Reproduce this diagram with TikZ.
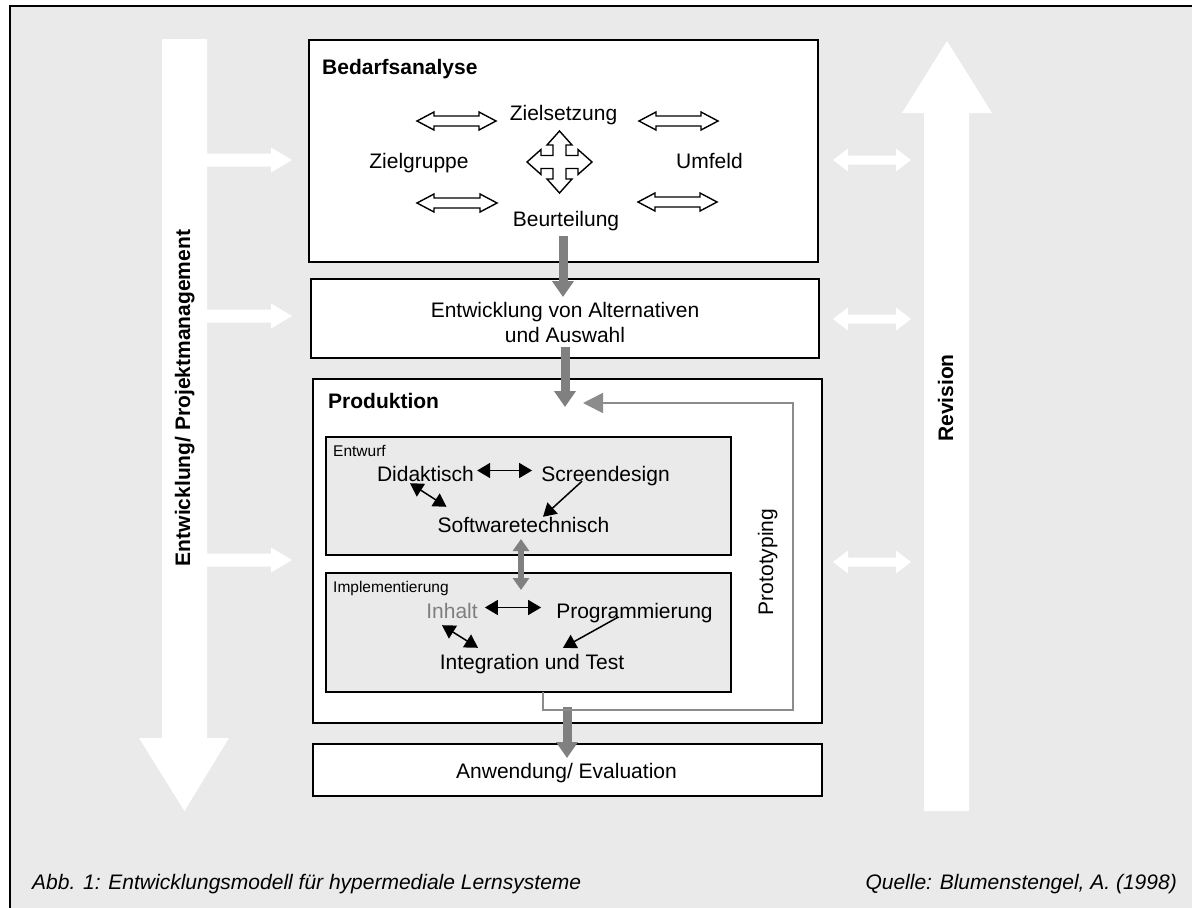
\documentclass[tikz,border=0pt]{standalone}
\usepackage{fontspec}
\setmainfont{Liberation Sans}
\usetikzlibrary{arrows.meta,calc}
\definecolor{bg}{HTML}{EAEAEA}
\definecolor{garrow}{HTML}{808080}
\definecolor{gline}{HTML}{8C8C8C}
\definecolor{inhgray}{HTML}{7F7F7F}
\begin{document}
\begin{tikzpicture}[x=1pt,y=-1pt,
  box/.style={draw=black, line width=1.8pt, fill=white, inner sep=0pt, outer sep=0pt},
  ibox/.style={draw=black, line width=1.8pt, fill=bg, inner sep=0pt, outer sep=0pt},
  t/.style={font=\fontsize{21}{25}\selectfont, inner sep=0pt, text height=15pt, text depth=4pt, anchor=base},
  hdr/.style={font=\bfseries\fontsize{21}{25}\selectfont, inner sep=0pt, anchor=base west},
  vtxt/.style={font=\bfseries\fontsize{21}{25}\selectfont, inner sep=0pt, anchor=base, rotate=90},
  small/.style={font=\fontsize{15.5}{18}\selectfont, inner sep=0pt, anchor=base west},
  captxt/.style={font=\itshape\fontsize{21}{25}\selectfont, inner sep=0pt},
  grayarrow/.style={draw=garrow, line width=9pt, -{Triangle[length=16pt,width=21pt]}},
  graydbl/.style={draw=garrow, line width=6pt, {Triangle[length=12pt,width=16pt]}-{Triangle[length=12pt,width=16pt]}},
  barrow/.style={draw=black, line width=1.5pt, -{Triangle[length=13pt,width=15pt]}},
  bdbl/.style={draw=black, line width=1.5pt, {Triangle[length=13pt,width=15pt]}-{Triangle[length=13pt,width=15pt]}},
  protoline/.style={draw=gline, line width=1.6pt, -{Triangle[length=20pt,width=20pt]}},
  outlinearrow/.style={draw=black, line width=1.4pt, fill=white, line join=miter}
]
\useasboundingbox (0,0) rectangle (1192,908);
\fill[bg] (10,6) rectangle (1192,908);
\draw[line width=2.5pt] (10,908) -- (10,6) -- (1192,6);

% big white arrows
\fill[white] (162,39) -- (207,39) -- (207,738) -- (229,738) -- (184.5,811) -- (139,738) -- (162,738) -- cycle;
\fill[white] (924,811) -- (969,811) -- (969,113) -- (992,113) -- (947,41) -- (902,113) -- (924,113) -- cycle;

% small white arrows left
\foreach \yy in {160,316,560} {
  \fill[white] (207,\yy-6.5) -- (271,\yy-6.5) -- (271,\yy-12.5) -- (292,\yy) -- (271,\yy+12.5) -- (271,\yy+6.5) -- (207,\yy+6.5) -- cycle;
}
% small white double arrows right
\foreach \yy in {160,319,562} {
  \fill[white] (833,\yy) -- (848,\yy-11.5) -- (848,\yy-4.5) -- (896,\yy-4.5) -- (896,\yy-11.5) -- (911,\yy) -- (896,\yy+11.5) -- (896,\yy+4.5) -- (848,\yy+4.5) -- (848,\yy+11.5) -- cycle;
}

% boxes
\node[box, minimum width=509pt, minimum height=222pt] (bed) at (563.5,151) {};
\node[box, minimum width=508pt, minimum height=79pt] (ent) at (565,318.5) {};
\node[box, minimum width=509pt, minimum height=344pt] (prod) at (567.5,551) {};
\node[box, minimum width=509pt, minimum height=52pt] (anw) at (567.5,770) {};
\node[ibox, minimum width=405pt, minimum height=118pt] (entw) at (528.5,496) {};
\node[ibox, minimum width=405pt, minimum height=119pt] (impl) at (528.5,632.5) {};

% Bedarfsanalyse content
\node[hdr] (bedt) at (322,74) {Bedarfsanalyse};
\node[t] (ziel) at (563.5,120) {Zielsetzung};
\node[t] (zgr) at (419,168) {Zielgruppe};
\node[t] (umf) at (709.5,168) {Umfeld};
\node[t] (beu) at (566,226) {Beurteilung};

\foreach \xa/\xb/\yy in {417/496/121, 417/497/203, 639/718/121, 638/717/202} {
  \draw[outlinearrow] (\xa,\yy) -- (\xa+17,\yy-9) -- (\xa+17,\yy-5) -- (\xb-17,\yy-5) -- (\xb-17,\yy-9) -- (\xb,\yy) -- (\xb-17,\yy+9) -- (\xb-17,\yy+5) -- (\xa+17,\yy+5) -- (\xa+17,\yy+9) -- cycle;
}
\begin{scope}[shift={(559.5,162)}]
\draw[outlinearrow] (0,-31) -- (12.5,-17) -- (6.5,-17) -- (6.5,-6.5) -- (18.5,-6.5) -- (18.5,-12.5) -- (32.5,0) -- (18.5,12.5) -- (18.5,6.5) -- (6.5,6.5) -- (6.5,17) -- (12.5,17) -- (0,31) -- (-12.5,17) -- (-6.5,17) -- (-6.5,6.5) -- (-18.5,6.5) -- (-18.5,12.5) -- (-32.5,0) -- (-18.5,-12.5) -- (-18.5,-6.5) -- (-6.5,-6.5) -- (-6.5,-17) -- (-12.5,-17) -- cycle;
\end{scope}

% Entwicklung box text
\node[font=\fontsize{21}{25}\selectfont, inner sep=0pt, align=center] (entt) at (565,322) {Entwicklung von Alternativen\\und Auswahl};

% Produktion content
\node[hdr] (prodt) at (328,408) {Produktion};
\node[small] (entwt) at (333,456) {Entwurf};
\node[t] (did) at (425.5,481) {Didaktisch};
\node[t] (scr) at (605.5,481) {Screendesign};
\node[t] (sw) at (523.5,532) {Softwaretechnisch};
\node[small] (implt) at (333,592) {Implementierung};
\node[t, text=inhgray] (inh) at (452,618) {Inhalt};
\node[t] (prog) at (634.5,618) {Programmierung};
\node[t] (integ) at (532,669) {Integration und Test};
\node[t, rotate=90] (proto) at (773,562) {Prototyping};

% Anwendung
\node[t] (anwt) at (566.5,778) {Anwendung/ Evaluation};

% vertical labels
\node[vtxt] (pm) at (190,398) {Entwicklung/ Projektmanagement};
\node[vtxt] (rev) at (953,398) {Revision};

% caption
\node[captxt, anchor=base west] (c1) at (32,889) {Abb. 1: Entwicklungsmodell für hypermediale Lernsysteme};
\node[captxt, anchor=base east] (c2) at (1177,889) {Quelle: Blumenstengel, A. (1998)};

% gray flow arrows
\draw[grayarrow] ([xshift=-0.5pt,yshift=26pt]bed.south) -- ([xshift=-2pt,yshift=-18pt]ent.north);
\draw[grayarrow] ([yshift=11pt]ent.south) -- ([xshift=-2.5pt,yshift=-28pt]prod.north);
\draw[grayarrow] ([xshift=-0.5pt,yshift=16pt]prod.south) -- ([xshift=-0.5pt,yshift=-14pt]anw.north);
\draw[graydbl] ([xshift=-7.5pt,yshift=16pt]entw.south) -- ([xshift=-7.5pt,yshift=-17pt]impl.north);

% prototyping loop
\coordinate (protoend) at (583,403);
\draw[protoline] ([xshift=14.5pt]impl.south) -- ++(0,18) -- ++(250,0) -- ++(0,-307) -- (protoend);

% black arrows
\draw[bdbl] ([xshift=3pt,yshift=5pt]did.east) -- ([xshift=-9pt,yshift=5pt]scr.west);
\draw[bdbl] ([xshift=-15.5pt,yshift=2pt]did.south) -- ([xshift=9pt,yshift=10pt]sw.north west);
\draw[barrow] ([xshift=-23.5pt,yshift=4pt]scr.south) -- ([xshift=19.5pt]sw.north);
\draw[bdbl] ([xshift=7pt,yshift=5pt]inh.east) -- ([xshift=-15pt,yshift=5pt]prog.west);
\draw[bdbl] ([xshift=-10pt,yshift=-3pt]inh.south) -- ([xshift=-54pt,yshift=6pt]integ.north);
\draw[barrow] ([xshift=-16.5pt,yshift=5pt]prog.south) -- ([xshift=31pt,yshift=6pt]integ.north);
\end{tikzpicture}
\end{document}
